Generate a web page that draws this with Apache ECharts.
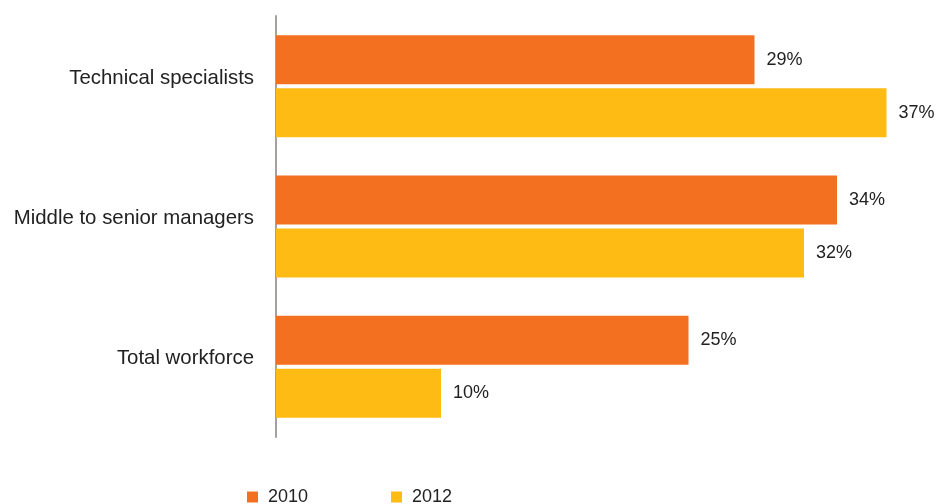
<!DOCTYPE html>
<html><head><meta charset="utf-8">
<script src="https://cdn.jsdelivr.net/npm/echarts@6/dist/echarts.min.js"></script>
<style>html,body{margin:0;padding:0;background:#fff}#c{width:940px;height:504px}</style>
</head><body><div id="c"></div>
<script>
const categories = ['Technical specialists', 'Middle to senior managers', 'Total workforce'];
const values2010 = [29, 34, 25];
const values2012 = [37, 32, 10];
const seriesNames = ['2010', '2012'];

const chart = echarts.init(document.getElementById('c'), null, {renderer: 'canvas'});
const font = 'Liberation Sans, Arial, sans-serif';
const label = {show: true, position: 'right', distance: 12, formatter: '{c}%', color: '#222', fontSize: 18, fontFamily: font};
chart.setOption({
  animation: false,
  grid: {left: 276, top: 16, width: 660, height: 421, containLabel: false},
  legend: {data: seriesNames, left: 247, top: 488, padding: 0, itemWidth: 11, itemHeight: 11, itemGap: 83, icon: 'rect',
    textStyle: {fontSize: 18, color: '#222', fontFamily: font, padding: [0, 0, 0, 5]}},
  xAxis: {type: 'value', min: 0, max: 40, show: false},
  yAxis: {type: 'category', data: categories, inverse: true,
    axisLine: {show: true, lineStyle: {color: '#a8a09b', width: 2}},
    axisTick: {show: false},
    axisLabel: {color: '#222', fontSize: 20.4, fontFamily: font, margin: 22, verticalAlign: 'bottom', lineHeight: 16}},
  series: [
    {name: '2010', type: 'bar', data: values2010, barWidth: 49, barGap: '8%', itemStyle: {color: '#f37021'}, label},
    {name: '2012', type: 'bar', data: values2012, barWidth: 49, itemStyle: {color: '#fdbb13'}, label}
  ]
});
</script></body></html>
